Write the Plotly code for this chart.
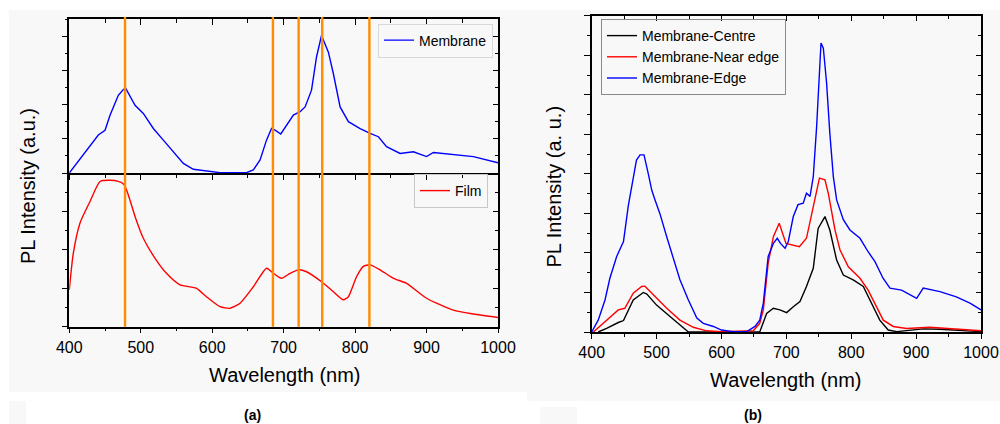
import plotly.graph_objects as go

# ---------------- data ----------------
# (a) Membrane, upper panel (arbitrary units, major tick = 1)
mem_x = [400, 415, 428, 440.6, 450, 457, 468.6, 475.6, 479, 492, 503.6, 517.6, 531.6, 545.6, 559.6,
         573.6, 592, 611, 648, 657.6, 667, 676, 683, 688, 696, 706.6, 713.6, 723, 730, 739, 746, 753,
         762.6, 769.6, 779, 790.6, 807, 821, 832.6, 844, 863, 881.6, 900, 909.6, 937.6, 965.6, 1000]
mem_y = [0, 0.40, 0.77, 1.11, 1.25, 1.69, 2.27, 2.44, 2.47, 1.98, 1.74, 1.30, 0.96, 0.62, 0.28,
         0.11, 0.05, 0.01, 0.01, 0.09, 0.38, 0.96, 1.30, 1.25, 1.14, 1.45, 1.69, 1.79, 1.93, 2.42, 3.39, 4.02,
         3.53, 2.90, 1.93, 1.50, 1.30, 1.16, 1.06, 0.77, 0.57, 0.62, 0.48, 0.60, 0.55, 0.48, 0.30]

# (a) Film, lower panel
film_x = [400, 405.6, 415, 429, 443, 457, 468.6, 476.5, 482.6, 492, 503.6, 520, 536, 555, 578, 592,
          611, 625, 639, 657.6, 676, 683, 697, 709, 720.6, 732, 753, 769.6, 783.6, 790.6, 802, 811.6,
          821, 835, 853.6, 872, 900, 937.6, 965.6, 1000]
film_y = [0.96, 1.91, 2.70, 3.26, 3.78, 3.81, 3.78, 3.70, 3.43, 2.87, 2.30, 1.78, 1.39, 1.09, 1.0, 0.78,
          0.52, 0.48, 0.61, 1.04, 1.52, 1.43, 1.26, 1.39, 1.48, 1.43, 1.17, 0.91, 0.70, 0.78, 1.30, 1.57,
          1.61, 1.48, 1.26, 1.13, 0.74, 0.43, 0.33, 0.24]

# (a) marker lines (nm)
peak_lines = [478, 685, 721, 754, 820]

# (b) Membrane-Centre
centre_x = [410, 423, 441, 449, 464, 479.6, 485, 500, 520.7, 536, 549, 600, 659, 669.6, 680, 690,
            700.5, 710.7, 721, 731, 741.5, 749, 759.5, 767, 777.5, 787.8, 803, 818.6, 831.4, 844, 857,
            870, 911, 936.7, 1000]
centre_y = [0, 0.09, 0.24, 0.29, 0.81, 1.0, 0.96, 0.68, 0.39, 0.18, 0, 0, 0, 0.47, 0.60, 0.56,
            0.49, 0.64, 0.77, 1.15, 1.61, 2.62, 2.92, 2.58, 1.82, 1.44, 1.32, 1.15, 0.73, 0.30, 0.05,
            0.01, 0.08, 0.07, 0.01]

# (b) Membrane-Near edge
near_x = [402.6, 423, 441, 451, 464, 477, 482, 495, 515.6, 536, 556.6, 577, 600, 649, 659, 664.5,
          672, 680, 689, 699.4, 710.7, 720, 731, 744, 751, 759.5, 764.6, 775, 782.6, 795.5, 813.5,
          826, 836.6, 849.4, 864.8, 885.4, 921, 962, 1000]
near_y = [0, 0.30, 0.56, 0.60, 0.98, 1.15, 1.16, 0.94, 0.60, 0.30, 0.12, 0.03, 0.01, 0.03, 0.22, 0.56,
          1.74, 2.41, 2.75, 2.24, 2.20, 2.16, 2.37, 3.34, 3.89, 3.85, 3.51, 2.58, 2.08, 1.65, 1.36,
          1.06, 0.73, 0.30, 0.14, 0.09, 0.12, 0.08, 0.03]

# (b) Membrane-Edge
edge_x = [400, 410, 420.5, 428, 438.5, 449, 456.5, 466.8, 469, 474.5, 480.6, 487, 492.5, 497.6, 505,
          515.6, 526, 536, 549, 562, 572, 587.5, 600, 618, 639, 651.7, 659, 664.5, 672, 680, 686, 691,
          698, 703, 710.7, 718, 726, 731, 736.5, 741.5, 746.7, 750.8, 753.4, 757, 762, 767, 772.4,
          777.5, 787.8, 798, 813.5, 826, 836.6, 849, 859.7, 877.6, 890.5, 900.8, 911, 936.7, 962,
          983, 1000]
edge_y = [0, 0.30, 0.81, 1.36, 1.91, 2.29, 3.2, 4.10, 4.35, 4.48, 4.48, 4.02, 3.59, 3.34, 3.0,
          2.41, 1.82, 1.32, 0.81, 0.35, 0.22, 0.14, 0.05, 0.01, 0.01, 0.14, 0.30, 0.73, 1.91, 2.24, 2.37, 2.24,
          2.12, 2.29, 2.92, 3.22, 3.26, 3.51, 3.43, 3.93, 5.20, 6.72, 7.31, 7.18, 6.30, 5.03, 3.93,
          3.34, 2.84, 2.58, 2.37, 2.03, 1.78, 1.36, 1.11, 1.06, 0.94, 0.85, 1.11, 1.02, 0.89,
          0.73, 0.56]

x_range = [400, 1000]
x_tickvals = [400, 500, 600, 700, 800, 900, 1000]
x_ticktext = ["400", "500", "600", "700", "800", "900", "1000"]

# ---------------- figure ----------------
W, H = 1000, 424
FONT = "Liberation Sans, Arial, sans-serif"
BG = "#f8f8f8"


def px_x(p):
    return p / W


def px_y(p):
    return 1 - p / H


fig = go.Figure()

fig.add_trace(go.Scatter(x=mem_x, y=mem_y, mode="lines", name="Membrane",
                         line=dict(color="#0000ff", width=1.4), xaxis="x", yaxis="y", legend="legend"))
fig.add_trace(go.Scatter(x=film_x, y=film_y, mode="lines", name="Film",
                         line=dict(color="#ff0000", width=1.4, shape="spline", smoothing=0.6),
                         xaxis="x2", yaxis="y2", legend="legend2"))
fig.add_trace(go.Scatter(x=centre_x, y=centre_y, mode="lines", name="Membrane-Centre",
                         line=dict(color="#000000", width=1.4), xaxis="x3", yaxis="y3", legend="legend3"))
fig.add_trace(go.Scatter(x=near_x, y=near_y, mode="lines", name="Membrane-Near edge",
                         line=dict(color="#ff0000", width=1.4), xaxis="x3", yaxis="y3", legend="legend3"))
fig.add_trace(go.Scatter(x=edge_x, y=edge_y, mode="lines", name="Membrane-Edge",
                         line=dict(color="#0000ff", width=1.4), xaxis="x3", yaxis="y3", legend="legend3"))

# empty traces binding the mirror (top / right) axes
for xa, ya in [("x4", "y4"), ("x5", "y5"), ("x6", "y6")]:
    fig.add_trace(go.Scatter(x=[None], y=[None], xaxis=xa, yaxis=ya, showlegend=False,
                             hoverinfo="skip", mode="lines"))

dx_a = [px_x(69.3), px_x(498)]
dy_a_top = [px_y(173), px_y(19)]
dy_a_bot = [px_y(326.7), px_y(173)]
dx_b = [px_x(591.7), px_x(981)]
dy_b = [px_y(332), px_y(15.7)]

tickfont = dict(family=FONT, size=16, color="black")


def xbase(domain, anchor, labels, lw=1.5, show=True):
    return dict(domain=domain, anchor=anchor, range=x_range, showgrid=False, zeroline=False,
                automargin=False,
                showline=show, linecolor="black", linewidth=lw, ticks="outside", ticklen=5,
                tickwidth=1.3, tickcolor="black", tickvals=x_tickvals, ticktext=x_ticktext,
                showticklabels=labels, tickfont=tickfont,
                minor=dict(dtick=50, tick0=400, ticks="outside", ticklen=3, tickcolor="black", tickwidth=1.2))


def ybase(domain, anchor, rng):
    return dict(domain=domain, anchor=anchor, range=rng, showgrid=False, zeroline=False,
                automargin=False,
                showline=True, linecolor="black", linewidth=1.5, ticks="outside", ticklen=6,
                tickwidth=1.3, tickcolor="black", dtick=1, tick0=0, showticklabels=False,
                minor=dict(dtick=0.5, tick0=0, ticks="outside", ticklen=3, tickcolor="black", tickwidth=1.2))


def xtop(domain, over, anchor, show=True):
    return dict(domain=domain, overlaying=over, anchor=anchor, side="top", range=x_range,
                showgrid=False, zeroline=False, automargin=False,
                showline=show, linecolor="black", linewidth=1.5,
                ticks="inside", ticklen=6, tickwidth=1.3, tickcolor="black", tickvals=x_tickvals,
                showticklabels=False,
                minor=dict(dtick=50, tick0=400, ticks="inside", ticklen=4, tickcolor="black", tickwidth=1.2))


def yright(domain, over, anchor, rng):
    return dict(domain=domain, overlaying=over, anchor=anchor, side="right", range=rng,
                showgrid=False, zeroline=False, automargin=False,
                showline=True, linecolor="black", linewidth=1.5,
                ticks="inside", ticklen=5, tickwidth=1.3, tickcolor="black", dtick=1, tick0=0,
                showticklabels=False,
                minor=dict(dtick=0.5, tick0=0, ticks="inside", ticklen=3, tickcolor="black", tickwidth=1.2))


legend_font = dict(family=FONT, size=14, color="black")
layout = dict(
    template="none",
    width=W, height=H, margin=dict(l=0, r=0, t=0, b=0, pad=0, autoexpand=False),
    paper_bgcolor="white", plot_bgcolor="rgba(0,0,0,0)",
    font=dict(family=FONT, color="black"),
    xaxis=xbase(dx_a, "y", False, lw=2.2),
    yaxis=ybase(dy_a_top, "x", [0, 4.5]),
    xaxis2=xbase(dx_a, "y2", True),
    yaxis2=ybase(dy_a_bot, "x2", [0, 4]),
    xaxis3=xbase(dx_b, "y3", True),
    yaxis3=ybase(dy_b, "x3", [0, 8]),
    xaxis4=xtop(dx_a, "x", "y4"),
    yaxis4=yright(dy_a_top, "y", "x4", [0, 4.5]),
    xaxis5=xtop(dx_a, "x2", "y5", show=False),
    yaxis5=yright(dy_a_bot, "y2", "x5", [0, 4]),
    xaxis6=xtop(dx_b, "x3", "y6"),
    yaxis6=yright(dy_b, "y3", "x6", [0, 8]),
    legend=dict(x=px_x(493), xanchor="right", y=px_y(40.5), yanchor="middle",
                font=legend_font, bgcolor="rgba(0,0,0,0)",
                bordercolor="#d8d8d8", borderwidth=1, itemwidth=30),
    legend2=dict(x=px_x(488), xanchor="right", y=px_y(191), yanchor="middle",
                 font=legend_font, bgcolor="rgba(0,0,0,0)",
                 bordercolor="#c8c8c8", borderwidth=1, itemwidth=30),
    legend3=dict(x=px_x(601), xanchor="left", y=px_y(19), yanchor="top",
                 font=legend_font, bgcolor="rgba(0,0,0,0)",
                 bordercolor="#8a8a8a", borderwidth=1, itemwidth=30, tracegroupgap=0),
)
fig.update_layout(**layout)

shapes = [
    dict(type="rect", xref="paper", yref="paper", x0=px_x(9), x1=px_x(527), y0=px_y(392), y1=px_y(10),
         fillcolor=BG, line=dict(width=0), layer="below"),
    dict(type="rect", xref="paper", yref="paper", x0=px_x(527), x1=1, y0=px_y(401), y1=px_y(10),
         fillcolor=BG, line=dict(width=0), layer="below"),
    dict(type="rect", xref="paper", yref="paper", x0=px_x(9), x1=px_x(26), y0=0, y1=px_y(401),
         fillcolor=BG, line=dict(width=0), layer="below"),
    dict(type="rect", xref="paper", yref="paper", x0=px_x(540), x1=px_x(577), y0=0, y1=px_y(407),
         fillcolor=BG, line=dict(width=0), layer="below"),
]
for wl in peak_lines:
    shapes.append(dict(type="line", xref="x", yref="paper", x0=wl, x1=wl,
                       y0=dy_a_bot[0], y1=px_y(17), line=dict(color="#ff8c00", width=2.4), layer="above"))
fig.update_layout(shapes=shapes)

title_font = dict(family=FONT, size=20, color="black")
annotations = [
    dict(text="PL Intensity (a.u.)", xref="paper", yref="paper", x=px_x(28), y=px_y(186),
         textangle=-90, showarrow=False, font=title_font, xanchor="center", yanchor="middle"),
    dict(text="PL Intensity (a. u.)", xref="paper", yref="paper", x=px_x(553), y=px_y(186.5),
         textangle=-90, showarrow=False, font=title_font, xanchor="center", yanchor="middle"),
    dict(text="Wavelength (nm)", xref="paper", yref="paper", x=px_x(284.5), y=px_y(375),
         showarrow=False, font=title_font, xanchor="center", yanchor="middle"),
    dict(text="Wavelength (nm)", xref="paper", yref="paper", x=px_x(786), y=px_y(380),
         showarrow=False, font=title_font, xanchor="center", yanchor="middle"),
    dict(text="<b>(a)</b>", xref="paper", yref="paper", x=px_x(252), y=px_y(415),
         showarrow=False, font=dict(family=FONT, size=14, color="black"), xanchor="center", yanchor="middle"),
    dict(text="<b>(b)</b>", xref="paper", yref="paper", x=px_x(753), y=px_y(415),
         showarrow=False, font=dict(family=FONT, size=14, color="black"), xanchor="center", yanchor="middle"),
]
fig.update_layout(annotations=annotations)

# page without body margin so the 1000x424 figure fills the window exactly
fig.write_html("out.html", config={"responsive": False, "displayModeBar": False},
               post_script="document.body.style.margin='0';document.body.style.overflow='hidden';")
